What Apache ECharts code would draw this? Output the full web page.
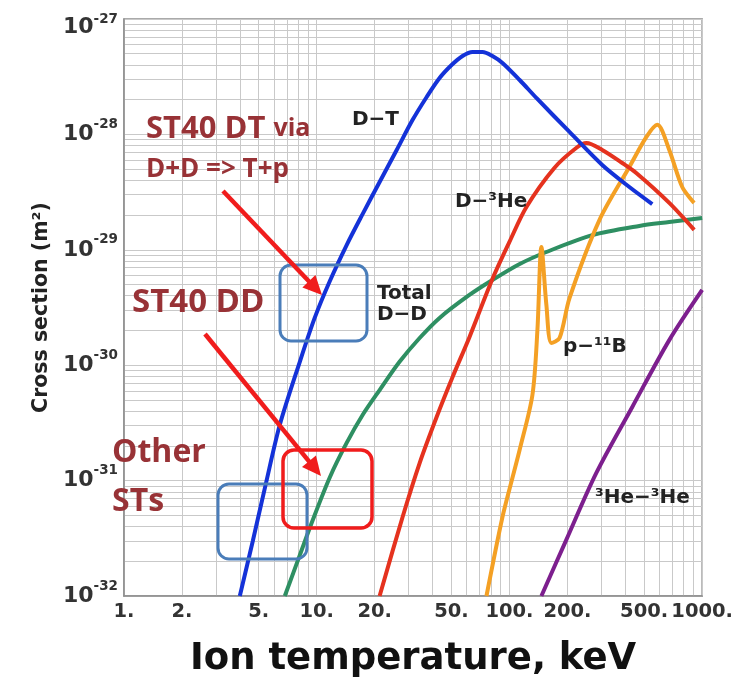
<!DOCTYPE html>
<html>
<head>
<meta charset="utf-8">
<script src="https://cdn.jsdelivr.net/npm/echarts@6/dist/echarts.min.js"></script>
<style>
html,body{margin:0;padding:0;background:#fff;}
#chart{width:736px;height:684px;}
</style>
</head>
<body>
<div id="chart"></div>
<script>
// Cross sections are read in m^2; plotted in units of 1e-32 m^2
const UNIT = 1e-32;

// Axis ticks
const xTickValues = [1, 2, 5, 10, 20, 50, 100, 200, 500, 1000];
const yTickExponents = [-32, -31, -30, -29, -28, -27];

// D–T
const dtEnergy = [3.99, 4.66, 5.44, 6.43, 8.17, 9.76, 11.7, 14.3, 17.3, 21.2, 26.0, 31.4, 37.2, 43.4, 50.1, 57.1, 64.3, 72.5, 81.6, 92.0, 113, 138, 205, 303, 419, 551];
const dtSigma  = [1.0e-32, 3.00e-32, 9.33e-32, 3.03e-31, 1.07e-30, 2.57e-30, 5.37e-30, 1.10e-29, 2.04e-29, 3.87e-29, 7.33e-29, 1.33e-28, 2.11e-28, 3.08e-28, 3.99e-28, 4.78e-28, 5.18e-28, 5.18e-28, 4.78e-28, 4.16e-28, 2.96e-28, 2.07e-28, 1.05e-28, 5.43e-29, 3.50e-29, 2.49e-29];

// Total D–D
const ddEnergy = [6.83, 8.17, 9.54, 11.7, 14.3, 17.3, 21.2, 26.9, 34.2, 43.4, 62.0, 81.6, 113, 155.5, 269, 472, 675, 1000];
const ddSigma  = [1.0e-32, 2.26e-32, 4.56e-32, 1.07e-31, 2.12e-31, 3.70e-31, 6.09e-31, 1.07e-30, 1.72e-30, 2.57e-30, 4.06e-30, 5.47e-30, 7.53e-30, 9.57e-30, 1.34e-29, 1.61e-29, 1.74e-29, 1.89e-29];

// D–3He
const dheEnergy = [21.2, 27.9, 34.2, 41.9, 50.7, 62.0, 81.6, 100, 122.5, 171, 222, 251, 303, 385, 455, 675, 909];
const dheSigma  = [1.0e-32, 4.84e-32, 1.42e-31, 3.56e-31, 7.91e-31, 1.75e-30, 5.58e-30, 1.17e-29, 2.35e-29, 5.12e-29, 7.62e-29, 8.41e-29, 7.33e-29, 5.65e-29, 4.63e-29, 2.55e-29, 1.49e-29];

// p–11B
const pbEnergy = [76.0, 92.0, 104, 113, 131.6, 139.7, 146.5, 155.5, 165, 182, 205, 293, 419, 513, 585, 675, 788, 909];
const pbSigma  = [1.0e-32, 4.84e-32, 1.08e-31, 1.85e-31, 5.52e-31, 2.02e-30, 1.06e-29, 3.32e-30, 1.56e-30, 1.72e-30, 3.82e-30, 1.81e-29, 5.22e-29, 9.48e-29, 1.21e-28, 7.33e-29, 3.50e-29, 2.55e-29];

// 3He–3He
const hehEnergy = [146.5, 197, 282, 434, 675, 1000];
const hehSigma  = [1.0e-32, 3.05e-32, 1.16e-31, 4.35e-31, 1.65e-30, 4.49e-30];

function pairs(E, S) { return E.map((e, i) => [e, S[i] / UNIT]); }

// log grid lines at 1..9 of each decade
const xGrid = [];
for (let d = 0; d < 3; d++) for (let m = 1; m < 10; m++) xGrid.push(m * Math.pow(10, d));
xGrid.push(1000);
const yGrid = [];
for (let d = 0; d < 5; d++) for (let m = 1; m < 10; m++) yGrid.push(m * Math.pow(10, d));
yGrid.push(100000);
const yLabelValues = yTickExponents.map(e => Math.pow(10, e + 32));
const yTopExponent = yTickExponents[yTickExponents.length - 1];

const BOLD = 'DejaVu Sans';
const NOTE = 'Open Sans';
const noteColor = '#983236';
const arrowRed = '#f01c1c';

function arrow(x1, y1, x2, y2, color) {
  const dx = x2 - x1, dy = y2 - y1, L = Math.hypot(dx, dy), ux = dx / L, uy = dy / L;
  const hl = 19, hw = 9;
  const bx = x2 - ux * hl, by = y2 - uy * hl;
  return [
    { type: 'line', z: 100, shape: { x1: x1, y1: y1, x2: bx + ux * 2, y2: by + uy * 2 }, style: { stroke: color, lineWidth: 4.5 } },
    { type: 'polygon', z: 100, shape: { points: [[x2, y2], [bx - uy * hw, by + ux * hw], [bx + uy * hw, by - ux * hw]] }, style: { fill: color } }
  ];
}
function box(x, y, w, h, color, lw) {
  return { type: 'rect', z: 100, shape: { x: x, y: y, width: w, height: h, r: 11 }, style: { fill: null, stroke: color, lineWidth: lw } };
}
function txt(x, y, text, size, color, family) {
  return { type: 'text', z: 101, style: { x: x, y: y, text: text, fill: color, fontFamily: family, fontWeight: 'bold', fontSize: size, verticalAlign: 'middle', align: 'left' } };
}

const chart = echarts.init(document.getElementById('chart'), null, { renderer: 'canvas' });

const lineBase = (name, data, color) => ({
  name: name, type: 'line', data: data, showSymbol: false, smooth: 0.3,
  lineStyle: { color: color, width: 4 }, itemStyle: { color: color }, clip: true, animation: false
});

const labB = { fontFamily: BOLD, fontWeight: 'bold', fontSize: 22, color: '#333', lineHeight: 34 };
const labS = { fontFamily: BOLD, fontWeight: 'bold', fontSize: 13.5, color: '#333', lineHeight: 13, verticalAlign: 'top' };

const option = {
  animation: false,
  backgroundColor: '#ffffff',
  grid: { left: 124, right: 33, top: 19, bottom: 88, show: true, borderColor: '#8e8e8e', borderWidth: 1.5, backgroundColor: 'transparent' },
  xAxis: {
    type: 'log', logBase: 10, min: 1, max: 1000,
    name: 'Ion temperature, keV', nameLocation: 'middle', nameGap: 45,
    nameTextStyle: { fontFamily: BOLD, fontWeight: 'bold', fontSize: 37, color: '#111' },
    axisLine: { show: true, lineStyle: { color: '#8e8e8e', width: 1.5 } },
    axisTick: { show: false, customValues: xGrid },
    axisLabel: { customValues: xTickValues, formatter: v => Math.round(v) + '.', color: '#333', fontFamily: BOLD, fontWeight: 'bold', fontSize: 19.5, margin: 6 },
    splitLine: { show: true, lineStyle: { color: '#c9c9c9', width: 1 } }
  },
  yAxis: {
    type: 'log', logBase: 10, min: 1, max: 100000,
    name: 'Cross section (m²)', nameLocation: 'middle', nameGap: 72,
    nameTextStyle: { fontFamily: BOLD, fontWeight: 'bold', fontSize: 20.5, color: '#222' },
    axisLine: { show: true, lineStyle: { color: '#8e8e8e', width: 1.5 } },
    axisTick: { show: false, customValues: yGrid },
    axisLabel: {
      customValues: yLabelValues,
      formatter: v => {
        const e = Math.round(Math.log10(v)) - 32;
        return e === yTopExponent ? '{bt|10}{st|-' + (-e) + '}' : '{b|10}{s|-' + (-e) + '}';
      },
      margin: 6,
      rich: {
        b: labB,
        s: labS,
        bt: Object.assign({}, labB, { padding: [16, 0, 0, 0] }),
        st: Object.assign({}, labS, { padding: [10, 0, 0, 0] })
      }
    },
    splitLine: { show: true, lineStyle: { color: '#c9c9c9', width: 1 } }
  },
  series: [
    lineBase('Total D–D', pairs(ddEnergy, ddSigma), '#2e8f62'),
    lineBase('3He–3He', pairs(hehEnergy, hehSigma), '#7d1f8e'),
    lineBase('p–11B', pairs(pbEnergy, pbSigma), '#f4a024'),
    lineBase('D–3He', pairs(dheEnergy, dheSigma), '#e5321e'),
    lineBase('D–T', pairs(dtEnergy, dtSigma), '#1432d8')
  ],
  graphic: [].concat(
    [
      txt(352, 120, 'D−T', 20, '#222', BOLD),
      txt(455, 202, 'D−³He', 20, '#222', BOLD),
      txt(377, 294, 'Total', 20, '#222', BOLD),
      txt(377, 315, 'D−D', 20, '#222', BOLD),
      txt(563, 347, 'p−¹¹B', 20, '#222', BOLD),
      txt(595, 498, '³He−³He', 20, '#222', BOLD)
    ],
    [
      box(280, 265, 87, 76, '#4a7db9', 3),
      box(218, 484, 89, 75, '#4a7db9', 3),
      box(283, 450, 89, 78, '#f01c1c', 3.5)
    ],
    arrow(223, 191, 322, 295, arrowRed),
    arrow(205, 334, 321, 476, arrowRed),
    [
      { type: 'text', z: 101, style: { x: 146, y: 129, text: '{a|ST40 DT }{b|via}', verticalAlign: 'middle', align: 'left',
        rich: { a: { fontFamily: NOTE, fontWeight: 'bold', fontSize: 31, fill: noteColor, color: noteColor }, b: { fontFamily: NOTE, fontWeight: 'bold', fontSize: 25, fill: noteColor, color: noteColor } } } },
      txt(146, 170, 'D+D => T+p', 26, noteColor, NOTE),
      txt(132, 303, 'ST40 DD', 33, noteColor, NOTE),
      txt(112, 453, 'Other', 32, noteColor, NOTE),
      txt(112, 502, 'STs', 32, noteColor, NOTE)
    ]
  )
};
chart.setOption(option);
</script>
</body>
</html>
